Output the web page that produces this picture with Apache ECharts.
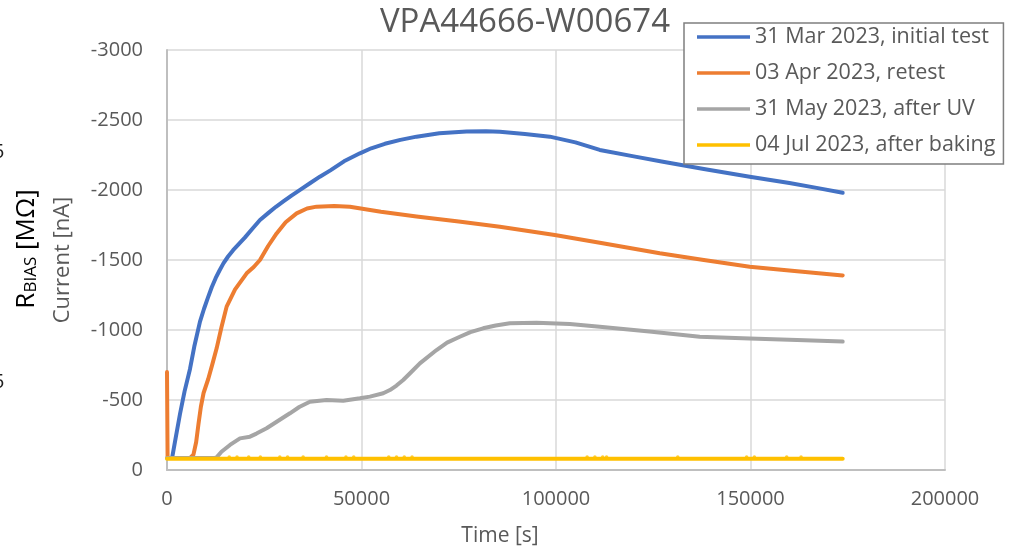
<!DOCTYPE html>
<html>
<head>
<meta charset="utf-8">
<script src="https://cdn.jsdelivr.net/npm/echarts@6/dist/echarts.min.js"></script>
<style>
  html, body { margin: 0; padding: 0; background: #ffffff; }
  #chart { width: 1012px; height: 551px; }
</style>
</head>
<body>
<div id="chart"></div>
<script>
// Leakage current vs. time for sensor VPA44666-W00674
const chartTitle = 'VPA44666-W00674';
const seriesNames = [
  '31 Mar 2023, initial test',
  '03 Apr 2023, retest',
  '31 May 2023, after UV',
  '04 Jul 2023, after baking'
];
const xTicks = [0, 50000, 100000, 150000, 200000];
const yTicks = [-3000, -2500, -2000, -1500, -1000, -500, 0];

// 31 Mar 2023, initial test
const timeInitial = [1300, 2300, 3340, 4500, 5900, 7000, 8480, 9500, 10500, 11500, 12500, 13500, 14500, 15700, 17000, 18500, 20000, 22000, 23900, 26000, 28000, 30000, 32000, 34300, 36740, 39300, 42000, 45500, 49590, 52500, 56000, 60000, 64150, 70000, 77000, 82000, 85560, 92000, 98410, 105000, 111250, 120000, 127500, 138000, 149800, 160000, 167000, 173700];
const currentInitial = [-85, -240, -400, -560, -720, -880, -1060, -1150, -1230, -1305, -1370, -1425, -1476, -1525, -1570, -1615, -1660, -1725, -1786, -1835, -1880, -1920, -1960, -2003, -2048, -2095, -2140, -2205, -2262, -2298, -2330, -2358, -2381, -2405, -2418, -2420, -2416, -2400, -2381, -2340, -2286, -2240, -2202, -2150, -2095, -2050, -2015, -1980];

// 03 Apr 2023, retest
const timeRetest = [0, 150, 3000, 6000, 6800, 7500, 8100, 8700, 9400, 10600, 11700, 12760, 14000, 15330, 17500, 20480, 22300, 23900, 26000, 28180, 30500, 33320, 36000, 38460, 43000, 47020, 55000, 64150, 75000, 85560, 92000, 99690, 112000, 126670, 138000, 149790, 162000, 173700];
const currentRetest = [-700, -85, -85, -88, -110, -200, -330, -450, -550, -650, -760, -869, -1020, -1167, -1290, -1405, -1450, -1500, -1600, -1690, -1770, -1833, -1868, -1881, -1885, -1881, -1845, -1810, -1775, -1738, -1710, -1679, -1620, -1548, -1500, -1452, -1420, -1390];

// 31 May 2023, after UV
const timeAfterUV = [0, 6000, 12000, 12760, 14000, 16190, 18760, 21330, 23000, 25610, 28500, 31600, 34000, 36740, 41020, 45300, 49590, 52160, 55580, 57300, 59000, 60720, 62800, 65000, 69290, 72000, 75280, 78000, 81270, 84500, 88130, 95000, 103550, 111250, 124000, 136950, 149790, 162000, 173700];
const currentAfterUV = [-85, -85, -85, -90, -130, -179, -226, -238, -260, -298, -350, -405, -450, -488, -500, -495, -512, -524, -548, -571, -603, -643, -700, -762, -857, -910, -952, -985, -1012, -1032, -1048, -1052, -1043, -1024, -990, -952, -940, -928, -917];

// 04 Jul 2023, after baking: steady level plus a few noisy readings
const timeAfterBaking = [0, 173700];
const currentAfterBaking = [-80, -80];
const timeBakingNoise = [16000, 18000, 21000, 24000, 29000, 31000, 35000, 41000, 46000, 48000, 57000, 59000, 61000, 63000, 108000, 110000, 112000, 113000, 131300, 149000, 151000, 159300, 163000];
const currentBakingNoise = [-92, -92, -93, -92, -92, -93, -92, -92, -93, -92, -92, -92, -93, -92, -92, -93, -92, -92, -92, -93, -92, -92, -92];

const seriesColors = ['#4472c4', '#ed7d31', '#a5a5a5', '#ffc000'];
const seriesTimes = [timeInitial, timeRetest, timeAfterUV, timeAfterBaking];
const seriesCurrents = [currentInitial, currentRetest, currentAfterUV, currentAfterBaking];

const textGray = '#595959';
const font = '"Open Sans", "Noto Sans", sans-serif';

const chart = echarts.init(document.getElementById('chart'), null, { renderer: 'canvas' });

const series = seriesNames.map((name, i) => ({
  name: name,
  type: 'line',
  data: seriesTimes[i].map((t, k) => [t, seriesCurrents[i][k]]),
  showSymbol: false,
  symbol: 'none',
  smooth: false,
  lineStyle: { width: 4, color: seriesColors[i], cap: 'round', join: 'round' },
  itemStyle: { color: seriesColors[i] },
  animation: false,
  z: 2 + i
}));

series.push({
  name: 'baking noise',
  type: 'scatter',
  data: timeBakingNoise.map((t, k) => [t, currentBakingNoise[k]]),
  symbol: 'circle',
  symbolSize: 3.5,
  itemStyle: { color: seriesColors[3] },
  silent: true,
  animation: false,
  z: 6
});

chart.setOption({
  animation: false,
  backgroundColor: '#ffffff',
  title: {
    text: chartTitle,
    left: 520,
    top: 1,
    textAlign: 'center',
    textStyle: { fontFamily: font, fontSize: 33, fontWeight: 'normal', color: textGray }
  },
  legend: {
    orient: 'vertical',
    left: 684,
    top: 23,
    padding: [3, 8, 8, 13],
    itemWidth: 53,
    itemHeight: 20,
    itemGap: 14,
    backgroundColor: '#ffffff',
    borderColor: '#7f7f7f',
    borderWidth: 1.5,
    borderRadius: 0,
    textStyle: { fontFamily: font, fontSize: 21.5, color: textGray, lineHeight: 20 },
    data: seriesNames.map((n, i) => ({ name: n, icon: 'path://M0,0 L53,0 L53,3.5 L0,3.5 Z', itemStyle: { color: seriesColors[i] } })),
    z: 10
  },
  grid: { left: 167, right: 67, top: 50, bottom: 81, containLabel: false },
  xAxis: {
    type: 'value',
    min: xTicks[0],
    max: xTicks[xTicks.length - 1],
    interval: 50000,
    axisLine: { show: true, onZero: false, lineStyle: { color: '#bfbfbf', width: 2 } },
    axisTick: { show: false },
    splitLine: { show: true, lineStyle: { color: '#d9d9d9', width: 1.5 } },
    axisLabel: {
      margin: 19,
      fontFamily: font, fontSize: 20, color: textGray,
      formatter: v => String(v)
    }
  },
  yAxis: {
    type: 'value',
    inverse: true,
    min: yTicks[0],
    max: yTicks[yTicks.length - 1],
    interval: 500,
    axisLine: { show: true, lineStyle: { color: '#bfbfbf', width: 2 } },
    axisTick: { show: false },
    splitLine: { show: true, lineStyle: { color: '#d9d9d9', width: 1.5 } },
    axisLabel: {
      margin: 24,
      fontFamily: font, fontSize: 20, color: textGray,
      formatter: v => String(v)
    }
  },
  graphic: [
    {
      type: 'text',
      x: 500, y: 536,
      style: {
        text: 'Time [s]',
        fontFamily: font, fontSize: 21, fill: textGray,
        align: 'center', verticalAlign: 'middle'
      }
    },
    {
      type: 'text',
      x: 63, y: 260,
      rotation: Math.PI / 2,
      style: {
        text: 'Current [nA]',
        fontFamily: font, fontSize: 22, fill: textGray,
        align: 'center', verticalAlign: 'middle'
      }
    },
    {
      type: 'text',
      x: 25, y: 249,
      rotation: Math.PI / 2,
      style: {
        text: '{r|R}{s|BIAS}{r| [MΩ]}',
        align: 'center', verticalAlign: 'middle',
        rich: {
          r: { fontFamily: font, fontSize: 26, fill: '#000000', verticalAlign: 'bottom', lineHeight: 30 },
          s: { fontFamily: font, fontSize: 17, fill: '#000000', verticalAlign: 'bottom', lineHeight: 24 }
        }
      }
    },
    {
      type: 'text',
      x: -7, y: 152,
      style: { text: '5', fontFamily: font, fontSize: 20, fill: '#1f1f1f', align: 'left', verticalAlign: 'middle' }
    },
    {
      type: 'text',
      x: -7, y: 382,
      style: { text: '5', fontFamily: font, fontSize: 20, fill: '#1f1f1f', align: 'left', verticalAlign: 'middle' }
    }
  ],
  series: series
});
</script>
</body>
</html>
